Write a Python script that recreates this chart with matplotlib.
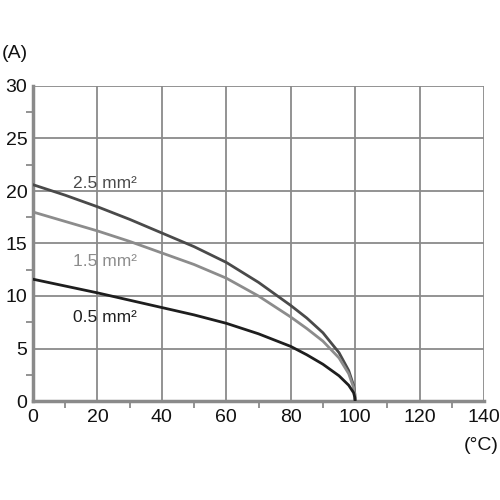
import numpy as np
import matplotlib
matplotlib.use('Agg')
from matplotlib import pyplot as plt
from matplotlib.ticker import MultipleLocator

plt.rcParams['font.family'] = ['Liberation Sans', 'DejaVu Sans']

# temperature (°C) and current (A)
temp = [0, 10, 20, 30, 40, 50, 60, 70, 80, 85, 90, 95, 98, 99.5, 99.9, 100]
amps_25 = [20.6, 19.6, 18.5, 17.3, 16.0, 14.7, 13.2, 11.3, 9.1, 7.9, 6.5, 4.6, 2.9, 1.5, 0.7, 0.0]
amps_15 = [18.0, 17.1, 16.2, 15.2, 14.1, 13.0, 11.7, 10.0, 8.0, 6.9, 5.7, 4.1, 2.6, 1.3, 0.6, 0.0]
amps_05 = [11.6, 10.95, 10.3, 9.6, 8.9, 8.2, 7.4, 6.4, 5.2, 4.4, 3.5, 2.4, 1.5, 0.8, 0.35, 0.0]

labels = ['2.5 mm²', '1.5 mm²', '0.5 mm²']
colors = ['#4a4a4a', '#8c8c8c', '#1e1e1e']
label_pos = [(12.3, 20.7), (12.3, 13.3), (12.3, 8.0)]

axis_grey = '#8a8a8a'

fig = plt.figure(figsize=(5, 5), dpi=100)
ax = fig.add_axes([0.066, 0.198, 0.902, 0.630])

for amps, c in zip([amps_25, amps_15, amps_05], colors):
    ax.plot(temp, amps, color=c, lw=2.0, solid_joinstyle='round', zorder=3)

for lab, c, (x, y) in zip(labels, colors, label_pos):
    ax.text(x, y, lab, color=c, fontsize=12.5, ha='left', va='center')

ax.set_xlim(0, 140)
ax.set_ylim(0, 30)
ax.xaxis.set_major_locator(MultipleLocator(20))
ax.xaxis.set_minor_locator(MultipleLocator(10))
ax.yaxis.set_major_locator(MultipleLocator(5))
ax.yaxis.set_minor_locator(MultipleLocator(2.5))

ax.grid(True, which='major', color=axis_grey, lw=1.3)
ax.set_axisbelow(True)

for side in ['top', 'right']:
    ax.spines[side].set_visible(False)
for side in ['left', 'bottom']:
    ax.spines[side].set_color(axis_grey)
    ax.spines[side].set_linewidth(2.5)

ax.tick_params(which='both', color=axis_grey, width=1.3, labelsize=14, labelcolor='#111111')
ax.tick_params(which='major', length=0)
ax.tick_params(axis='y', which='major', pad=4)
ax.tick_params(axis='x', which='major', pad=6)
ax.tick_params(which='minor', length=5)

fig.text(0.004, 0.894, '(A)', fontsize=14, color='#111111', ha='left', va='center')
fig.text(0.997, 0.108, '(°C)', fontsize=14, color='#111111', ha='right', va='center')

fig.savefig('out.png', dpi=100, facecolor='white')
